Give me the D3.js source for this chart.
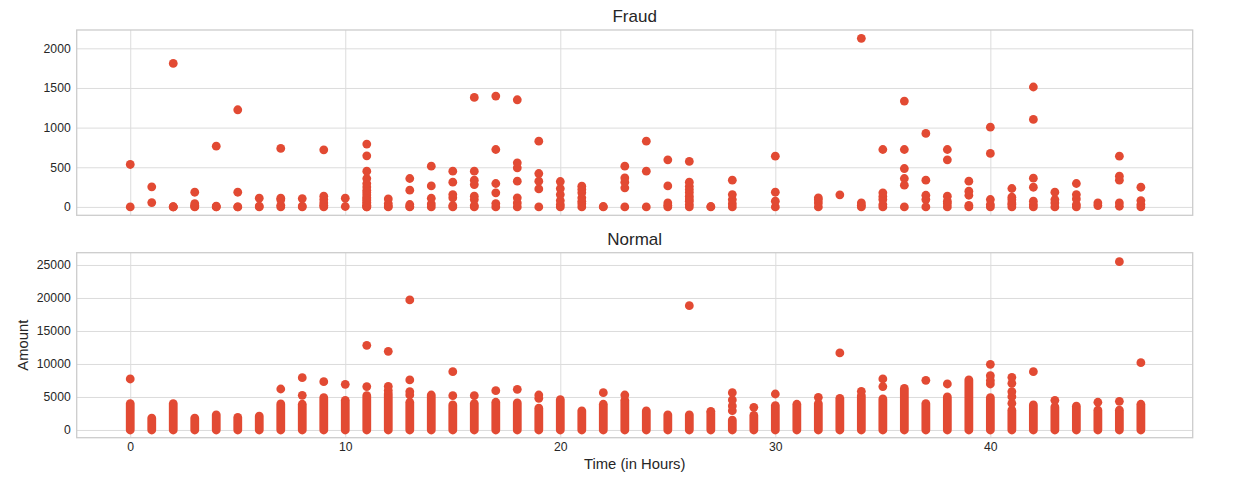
<!DOCTYPE html>
<html>
<head>
<meta charset="utf-8">
<script src="https://cdn.jsdelivr.net/npm/d3@7"></script>
<style>
  html, body { margin: 0; padding: 0; background: #ffffff; }
  svg { display: block; }
  text { font-family: "Liberation Sans", Arial, "DejaVu Sans", sans-serif; fill: #262626; }
</style>
</head>
<body>
<svg id="chart" width="1260" height="489"></svg>
<script>
// ---------- DATA ----------
const hours = d3.range(0, 48);
const xTicks = [0, 10, 20, 30, 40];
const fraudTicks = [0, 500, 1000, 1500, 2000];
const normalTicks = [0, 5000, 10000, 15000, 20000, 25000];
const titles = ["Fraud", "Normal"];
const xLabel = "Time (in Hours)";
const yLabel = "Amount";

// Fraud transaction amounts, one list per hour (index = hour)
const fraudByHour = [
  [0, 535],
  [55, 253],
  [0, 1, 2, 1810],
  [0, 5, 20, 40, 185],
  [0, 2, 10, 766],
  [0, 1, 185, 1225],
  [0, 10, 110],
  [0, 20, 90, 110, 737],
  [0, 10, 105],
  [0, 20, 50, 93, 135, 720],
  [5, 110],
  [0, 0, 10, 20, 40, 60, 80, 100, 120, 150, 180, 210, 250, 295, 358, 450, 644, 792],
  [0, 10, 42, 101],
  [0, 5, 30, 211, 358],
  [0, 38, 109, 265, 514],
  [0, 17, 114, 156, 312, 450],
  [0, 17, 93, 135, 282, 337, 450, 1381],
  [0, 42, 177, 295, 724, 1398],
  [0, 50, 114, 324, 493, 556, 1351],
  [0, 227, 324, 421, 829],
  [0, 30, 80, 155, 231, 320],
  [0, 40, 70, 114, 177, 220, 261],
  [0, 5],
  [0, 240, 312, 366, 514],
  [0, 450, 829],
  [0, 20, 50, 265, 594],
  [0, 30, 72, 100, 135, 180, 219, 260, 312, 573],
  [0, 5],
  [0, 40, 93, 156, 337],
  [],
  [0, 72, 185, 640],
  [],
  [0, 50, 90, 114],
  [152],
  [0, 20, 50, 2126],
  [0, 30, 93, 130, 177, 724],
  [0, 274, 358, 484, 724, 1335],
  [0, 93, 147, 337, 926],
  [0, 40, 72, 135, 594, 724],
  [0, 20, 147, 198, 324],
  [0, 30, 93, 674, 1006],
  [0, 30, 50, 90, 122, 232],
  [0, 30, 72, 248, 362, 1103, 1512],
  [0, 50, 93, 185],
  [0, 30, 100, 156, 295],
  [17, 50],
  [8, 50, 337, 387, 640],
  [0, 30, 80, 248]
];

// Normal transactions: per hour the amount up to which points form a solid column (from 0)
const normalDenseTop = [
  4000, 1800, 4000, 1800, 2300, 1900, 2100, 3950, 3900, 4900,
  4500, 5200, 5500, 4200, 5300, 3800, 4000, 4200, 4100, 3300,
  4600, 2900, 3900, 4500, 2900, 2300, 2300, 2600, 1500, 2200,
  3700, 3900, 4000, 4800, 5200, 4700, 6300, 4000, 5000, 7600,
  4900, 3000, 3800, 3500, 3600, 3000, 3000, 3900
];
// Normal transactions: separate points above the solid column, per hour
const normalExtraByHour = [
  [7727], [], [], [], [], [], [], [6210], [5250, 7930], [7320],
  [6920], [6570, 12830], [6000, 6620, 11920], [5300, 5800, 7580, 19700], [], [5200, 8840], [5200], [5960], [6160], [4800, 5300],
  [], [], [5650], [5300], [], [], [18840], [2830], [2930, 3640, 4545, 5650], [3430],
  [5450], [], [4950], [11670], [5860], [6570, 7730], [], [7530], [6970], [],
  [6970, 7500, 8230, 9950], [4040, 5050, 5810, 7070, 7980], [8840], [4500], [], [4200], [4340, 25500], [10200]
];

// ---------- LAYOUT ----------
const color = "#E24A33";
const r = 4.4;
const left = 76.7, right = 1192.7;
const panels = [
  { top: 30, bottom: 215.3, domain: [-106, 2231], ticks: fraudTicks, title: titles[0], titleY: 22 },
  { top: 252.7, bottom: 437.7, domain: [-1170, 26860], ticks: normalTicks, title: titles[1], titleY: 245 }
];

const svg = d3.select("#chart");
const x = d3.scaleLinear().domain([-2.49, 49.41]).range([left, right]);

panels.forEach((p, i) => {
  const y = d3.scaleLinear().domain(p.domain).range([p.bottom, p.top]);
  p.y = y;
  const g = svg.append("g");

  // horizontal grid + y tick labels
  const ya = g.append("g")
    .attr("transform", `translate(${left},0)`)
    .call(d3.axisLeft(y).tickValues(p.ticks).tickSize(-(right - left)).tickPadding(6).tickFormat(d3.format("d")));
  ya.select(".domain").remove();
  ya.selectAll("line").attr("stroke", "#dcdcdc").attr("stroke-width", 1);
  ya.selectAll("text").style("font-size", "12.2px").attr("fill", "#262626");

  // vertical grid (+ x labels for bottom panel)
  const xa = g.append("g")
    .attr("transform", `translate(0,${p.bottom})`)
    .call(d3.axisBottom(x).tickValues(xTicks).tickSize(-(p.bottom - p.top)).tickPadding(5).tickFormat(d3.format("d")));
  xa.select(".domain").remove();
  xa.selectAll("line").attr("stroke", "#dcdcdc").attr("stroke-width", 1);
  xa.selectAll("text").style("font-size", "12.2px").attr("fill", "#262626");
  if (i === 0) xa.selectAll("text").remove();

  // spines
  g.append("rect")
    .attr("x", left).attr("y", p.top)
    .attr("width", right - left).attr("height", p.bottom - p.top)
    .attr("fill", "none").attr("stroke", "#cccccc").attr("stroke-width", 1.3);

  // title
  g.append("text")
    .attr("x", (left + right) / 2).attr("y", p.titleY)
    .attr("text-anchor", "middle")
    .style("font-size", "17px")
    .text(p.title);
});

// Fraud points
const fraudPts = [];
fraudByHour.forEach((arr, h) => arr.forEach(v => fraudPts.push({ h, v })));
svg.append("g").selectAll("circle").data(fraudPts).join("circle")
  .attr("cx", d => x(d.h))
  .attr("cy", d => panels[0].y(d.v))
  .attr("r", r)
  .attr("fill", color);

// Normal dense columns (continuous runs of overlapping points)
const yN = panels[1].y;
svg.append("g").selectAll("line").data(hours).join("line")
  .attr("x1", h => x(h)).attr("x2", h => x(h))
  .attr("y1", yN(0)).attr("y2", h => yN(normalDenseTop[h]))
  .attr("stroke", color)
  .attr("stroke-width", 2 * r)
  .attr("stroke-linecap", "round");

// Normal separate points
const normalPts = [];
normalExtraByHour.forEach((arr, h) => arr.forEach(v => normalPts.push({ h, v })));
svg.append("g").selectAll("circle").data(normalPts).join("circle")
  .attr("cx", d => x(d.h))
  .attr("cy", d => yN(d.v))
  .attr("r", r)
  .attr("fill", color);

// axis labels
svg.append("text")
  .attr("x", (left + right) / 2).attr("y", 469)
  .attr("text-anchor", "middle")
  .style("font-size", "14.8px")
  .text(xLabel);

svg.append("text")
  .attr("transform", `translate(28,${(panels[1].top + panels[1].bottom) / 2}) rotate(-90)`)
  .attr("text-anchor", "middle")
  .style("font-size", "14.8px")
  .text(yLabel);
</script>
</body>
</html>
